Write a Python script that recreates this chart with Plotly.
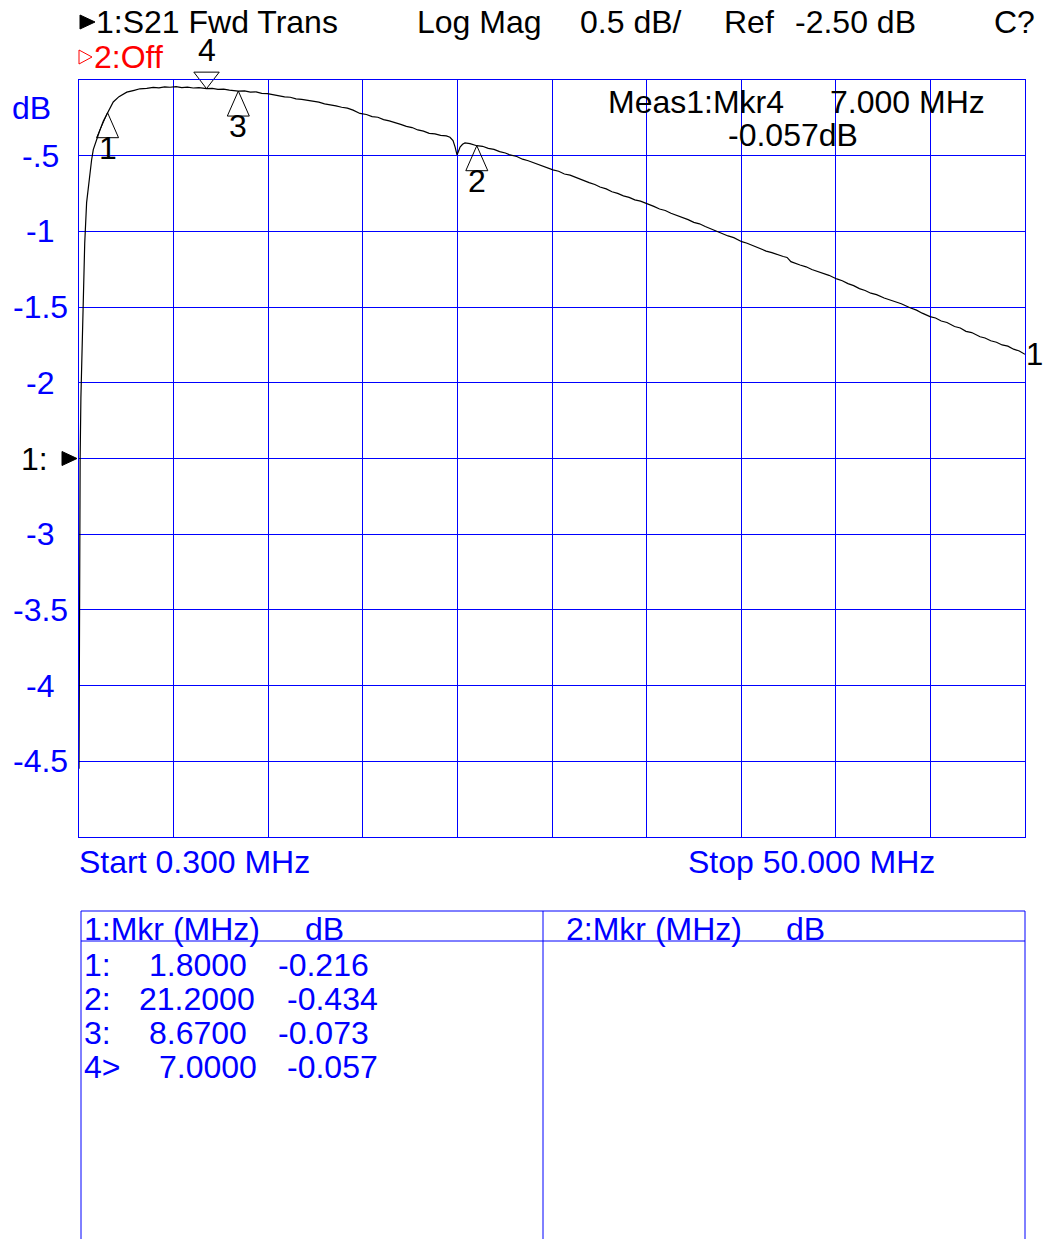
import plotly.graph_objects as go

# ---------------- data ----------------
freq_mhz = [0.30, 0.32, 0.36, 0.40, 0.44, 0.53, 0.60, 0.70, 0.80, 0.88, 0.96, 1.05, 1.15,
            1.23, 1.32, 1.40, 1.58, 1.80, 1.95, 2.10, 2.40, 2.81, 3.20, 3.50, 3.86, 4.20,
            4.50, 4.80, 5.08, 5.40, 5.70, 6.00, 6.30, 6.60, 7.00, 7.30, 7.60, 7.90, 8.20,
            8.67, 9.00, 9.30, 9.60, 9.90, 10.20, 10.50, 10.80, 11.10, 11.40, 11.70, 12.00,
            12.30, 12.60, 12.90, 13.20, 13.50, 13.80, 14.10, 14.40, 14.70, 15.06, 15.40,
            15.70, 16.00, 16.30, 16.60, 16.90, 17.20, 17.50, 17.80, 18.10, 18.40, 18.70,
            19.00, 19.30, 19.60, 19.79, 19.95, 20.06, 20.16, 20.24, 20.32, 20.45, 20.58,
            20.84, 21.20, 21.50, 21.80, 22.10, 22.40, 22.70, 22.94, 23.30, 23.60, 23.90,
            24.20, 24.50, 24.80, 25.20, 25.50, 25.80, 26.10, 26.46, 26.80, 27.10, 27.40,
            27.67, 28.00, 28.30, 28.60, 28.90, 29.20, 29.50, 29.80, 30.13, 30.50, 30.80,
            31.10, 31.40, 31.70, 32.00, 32.30, 32.60, 32.90, 33.20, 33.50, 33.81, 34.10,
            34.40, 34.70, 35.12, 35.40, 35.70, 36.00, 36.40, 36.70, 37.00, 37.30, 37.50,
            37.60, 37.70, 38.18, 38.50, 38.80, 39.10, 39.40, 39.70, 40.11, 40.40, 40.70,
            41.00, 41.30, 41.60, 41.90, 42.20, 42.60, 42.90, 43.20, 43.50, 43.96, 44.30,
            44.60, 45.01, 45.30, 45.60, 45.90, 46.30, 46.60, 46.90, 47.20, 47.64, 47.90,
            48.20, 48.50, 48.80, 49.10, 49.40, 49.70, 50.00]
s21_db = [-4.55, -3.00, -2.50, -2.10, -1.85, -1.41, -1.08, -0.81, -0.69, -0.61, -0.53, -0.46, -0.42,
          -0.40, -0.36, -0.33, -0.27, -0.216, -0.18, -0.145, -0.11, -0.080, -0.068, -0.058, -0.055, -0.049,
          -0.052, -0.045, -0.048, -0.044, -0.050, -0.047, -0.053, -0.051, -0.057, -0.055, -0.062, -0.060, -0.067,
          -0.073, -0.072, -0.080, -0.079, -0.088, -0.090, -0.098, -0.101, -0.112, -0.114, -0.125, -0.128,
          -0.134, -0.143, -0.146, -0.158, -0.163, -0.171, -0.180, -0.186, -0.199, -0.221, -0.228,
          -0.242, -0.246, -0.262, -0.270, -0.284, -0.293, -0.306, -0.314, -0.330, -0.338, -0.352,
          -0.356, -0.366, -0.369, -0.378, -0.400, -0.443, -0.495, -0.470, -0.443, -0.425, -0.416,
          -0.420, -0.434, -0.438, -0.452, -0.458, -0.473, -0.482, -0.495, -0.505, -0.523, -0.533,
          -0.548, -0.561, -0.575, -0.594, -0.603, -0.621, -0.628, -0.647, -0.660, -0.678, -0.690,
          -0.707, -0.719, -0.738, -0.749, -0.765, -0.775, -0.792, -0.800, -0.819, -0.835, -0.852,
          -0.862, -0.880, -0.893, -0.908, -0.922, -0.940, -0.950, -0.968, -0.983, -1.002, -1.012,
          -1.030, -1.041, -1.068, -1.078, -1.094, -1.106, -1.130, -1.140, -1.155, -1.166, -1.172,
          -1.188, -1.200, -1.222, -1.234, -1.252, -1.265, -1.282, -1.290, -1.314, -1.326, -1.345,
          -1.358, -1.378, -1.390, -1.408, -1.418, -1.440, -1.452, -1.468, -1.478, -1.504, -1.520,
          -1.540, -1.563, -1.572, -1.592, -1.602, -1.628, -1.638, -1.660, -1.668, -1.696, -1.704,
          -1.722, -1.732, -1.750, -1.758, -1.778, -1.790, -1.812]

marker_ids = ["1", "2", "3", "4"]
marker_freq = [1.8, 21.2, 8.67, 7.0]
marker_db = [-0.216, -0.434, -0.073, -0.057]
active_marker = "4"
marker_freq_txt = ["1.8000", "21.2000", "8.6700", "7.0000"]
marker_db_txt = ["-0.216", "-0.434", "-0.073", "-0.057"]
marker_row_lbl = ["1:", "2:", "3:", "4>"]

ytick_vals = [-0.5, -1, -1.5, -2, -3, -3.5, -4, -4.5]
ytick_text = ["-.5", "-1", "-1.5", "-2", "-3", "-3.5", "-4", "-4.5"]

start_mhz, stop_mhz = 0.3, 50.0
ref_db, scale_db = -2.5, 0.5

# ---------------- layout helpers ----------------
W, H = 1044, 1239
L, R, T, B = 79, 1025, 80, 837
def px(x):
    return (x - L) / (R - L)
def py(y):
    return (B - y) / (B - T)

FONT = "Liberation Sans, Arial, sans-serif"
FS = 32
BLUE = "#0000FF"

fig = go.Figure()
fig.add_trace(go.Scatter(x=freq_mhz, y=s21_db, mode="lines",
                         line=dict(color="black", width=1.2), hoverinfo="skip",
                         showlegend=False))

ann = []
def text(t, x, y, color="black", xanchor="left", xref="paper", yref="paper", size=FS, **kw):
    ann.append(dict(text=t, x=x, y=y, xref=xref, yref=yref, xanchor=xanchor,
                    yanchor="middle", showarrow=False, borderpad=0, borderwidth=0,
                    font=dict(family=FONT, size=size, color=color), **kw))

# header
text("1:S21 Fwd Trans", px(96), py(22))
text("Log Mag", px(417), py(22))
text("0.5 dB/", px(580), py(22))
text("Ref", px(724), py(22))
text("-2.50 dB", px(795), py(22))
text("C?", px(994), py(22))
text("2:Off", px(94), py(57), color="red")
text("Meas1:Mkr4", px(608), py(102))
text("7.000 MHz", px(830), py(102))
text("-0.057dB", px(728), py(135))

# y axis labels
text("dB", px(31), py(108), color=BLUE, xanchor="center")
for v, t in zip(ytick_vals, ytick_text):
    text(t, px(40), v, color=BLUE, xanchor="center", yref="y")
text("1:", px(21), ref_db, yref="y")

# start / stop
text("Start 0.300 MHz", px(79), py(862), color=BLUE)
text("Stop 50.000 MHz", px(688), py(862), color=BLUE)

# markers on trace
shapes = []
act_f, act_d = [], []
for mid, f, d in zip(marker_ids, marker_freq, marker_db):
    if mid == active_marker:
        act_f.append(f)
        act_d.append(d)
        text(mid, f, d, xanchor="center", xref="x", yref="y", yshift=39)
    else:
        shapes.append(dict(type="path", xref="x", yref="y", xsizemode="pixel", ysizemode="pixel",
                           xanchor=f, yanchor=d, path="M0,0 L-11,-25 L11,-25 Z",
                           line=dict(color="black", width=1), fillcolor="rgba(0,0,0,0)"))
        text(mid, f, d, xanchor="center", xref="x", yref="y", yshift=-35)

# active marker: down triangle above the trace (not clipped by the plot area)
fig.add_trace(go.Scatter(x=act_f, y=act_d, mode="markers", cliponaxis=False,
                         marker=dict(symbol="triangle-up-open", angle=180, size=22, standoff=11,
                                     color="black", line=dict(width=1, color="black")),
                         hoverinfo="skip", showlegend=False))

# trace end label
text("1", freq_mhz[-1], s21_db[-1], xref="x", yref="y", xshift=1, size=31)

# reference arrow at left
shapes.append(dict(type="path", xref="paper", yref="y", xsizemode="pixel", ysizemode="pixel",
                   xanchor=0, yanchor=ref_db, path="M-2,0 L-17,7 L-17,-7 Z",
                   line=dict(color="black", width=1), fillcolor="black"))
# title arrows
shapes.append(dict(type="path", xref="paper", yref="paper", xsizemode="pixel", ysizemode="pixel",
                   xanchor=0, yanchor=1, path="M16,58 L1,65 L1,51 Z",
                   line=dict(color="black", width=1), fillcolor="black"))
shapes.append(dict(type="path", xref="paper", yref="paper", xsizemode="pixel", ysizemode="pixel",
                   xanchor=0, yanchor=1, path="M13,23 L0,30 L0,16 Z",
                   line=dict(color="red", width=1), fillcolor="rgba(0,0,0,0)"))

# marker table
def seg(x0, y0, x1, y1):
    shapes.append(dict(type="line", xref="paper", yref="paper",
                       x0=px(x0), y0=py(y0), x1=px(x1), y1=py(y1),
                       line=dict(color=BLUE, width=1)))
seg(81, 911, 1025, 911)
seg(81, 941, 1025, 941)
seg(81, 911, 81, 1260)
seg(543, 911, 543, 1260)
seg(1025, 911, 1025, 1260)

text("1:Mkr (MHz)", px(84), py(929), color=BLUE)
text("dB", px(305), py(929), color=BLUE)
text("2:Mkr (MHz)", px(566), py(929), color=BLUE)
text("dB", px(786), py(929), color=BLUE)

freq_x = [149, 139, 149, 159]
db_x = [278, 287, 278, 287]
row_y = [965, 999, 1033, 1067]
for lbl, ft, dt, fx, dx, ry in zip(marker_row_lbl, marker_freq_txt, marker_db_txt, freq_x, db_x, row_y):
    text(lbl, px(84), py(ry), color=BLUE)
    text(ft, px(fx), py(ry), color=BLUE)
    text(dt, px(dx), py(ry), color=BLUE)

axis_common = dict(showgrid=True, gridcolor=BLUE, gridwidth=1, zeroline=False,
                   showline=True, mirror=True, linecolor=BLUE, linewidth=1,
                   ticks="", showticklabels=False, fixedrange=True)

fig.update_layout(
    width=W, height=H, autosize=False,
    margin=dict(l=L, r=W - R, t=T, b=H - B, pad=0),
    paper_bgcolor="white", plot_bgcolor="white",
    xaxis=dict(range=[start_mhz, stop_mhz], tick0=start_mhz, dtick=(stop_mhz - start_mhz) / 10,
               **axis_common),
    yaxis=dict(range=[ref_db - 5 * scale_db, ref_db + 5 * scale_db], tick0=0, dtick=scale_db,
               **axis_common),
    annotations=ann, shapes=shapes, showlegend=False,
)

fig.write_html("out.html", config={"displayModeBar": False, "staticPlot": True},
               post_script="document.body.style.margin='0';document.body.style.overflow='hidden';")
